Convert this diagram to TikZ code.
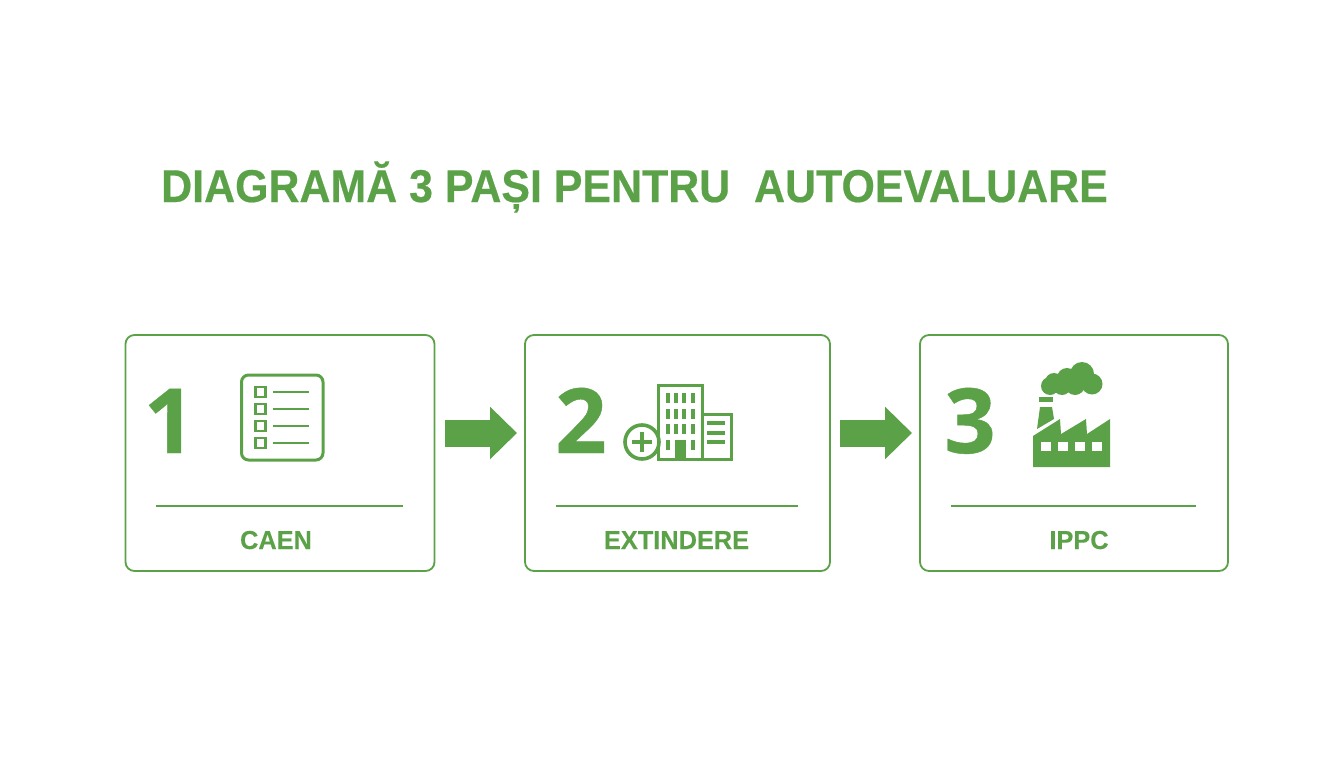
\documentclass[tikz,border=0pt]{standalone}
\usepackage{fontspec}
\setmainfont{Liberation Sans}
\newfontfamily\headfont[FakeStretch=0.933, FakeBold=0.4]{Liberation Sans Bold}
\newfontfamily\labelfont[FakeStretch=0.975, FakeBold=0.2]{Liberation Sans Bold}
\newfontfamily\numfont[FakeBold=0.5]{Open Sans Bold}
\usetikzlibrary{positioning, arrows.meta}
\definecolor{leaf}{HTML}{5AA147}
\tikzset{
  x=1pt, y=-1pt,
  node distance=90pt,
  stepbox/.style={draw=leaf, line width=1.8pt, rounded corners=9pt, minimum height=236pt, outer sep=0pt, inner sep=0pt},
  stepnum/.style={text=leaf, font=\numfont\fontsize{90}{90}\selectfont, anchor=base, inner sep=0pt},
  steplabel/.style={text=leaf, font=\labelfont\fontsize{26}{26}\selectfont, anchor=base, inner sep=0pt},
  headline/.style={text=leaf, font=\headfont\fontsize{46}{46}\selectfont, anchor=base west, inner sep=0pt},
  rule/.style={draw=leaf, line width=1.6pt},
  flow/.style={draw=leaf, line width=27pt, -{Triangle[length=27pt, width=51pt]}, shorten <=10pt, shorten >=8pt},
  thin icon/.style={draw=leaf, line width=2.6pt},
}

\begin{document}
\begin{tikzpicture}
  \useasboundingbox (0,0) rectangle (1344,768);

  \node[headline] (title) at (161,202) {DIAGRAMĂ 3 PAȘI PENTRU\ \ AUTOEVALUARE};

  \node[stepbox, minimum width=309pt, anchor=north west] (box1) at (125.5,335) {};
  \node[stepbox, minimum width=305pt, right=90.5pt of box1] (box2) {};
  \node[stepbox, minimum width=308pt, right=90pt of box2] (box3) {};

  \coordinate (row) at (0,433);
  \draw[flow] (box1.east |- row) -- (box2.west |- row);
  \draw[flow] (box2.east |- row) -- (box3.west |- row);

  \node[stepnum] (num1) at (169.5,453) {1};
  \node[stepnum] (num2) at (581,453) {2};
  \node[stepnum] (num3) at (970,453) {3};

  \draw[rule] (156,506) -- (403,506);
  \draw[rule] (556,506) -- (798,506);
  \draw[rule] (951,506) -- (1196,506);

  \node[steplabel] (caen) at (276,549) {CAEN};
  \node[steplabel] (ext) at (676.5,549) {EXTINDERE};
  \node[steplabel] (ippc) at (1079,549) {IPPC};

  % list icon
  \draw[leaf, line width=3pt, rounded corners=7pt] (241.5,375) rectangle (323,460);
  \foreach \y in {392,409,426,443} {
    \draw[thin icon] (255.5,\y-5) rectangle (265.5,\y+5);
    \draw[thin icon] (273,\y) -- (309,\y);
  }

  % building icon
  \draw[leaf, line width=3pt] (658.5,385.5) rectangle (702,459);
  \draw[leaf, line width=3pt] (702,414.5) rectangle (731,459);
  \foreach \x in {668,676,684,693} {
    \foreach \y in {398,414,429}
      \fill[leaf] (\x-2.3,\y-5) rectangle (\x+2.3,\y+5);
  }
  \foreach \x in {668,693}
    \fill[leaf] (\x-2.3,440) rectangle (\x+2.3,450);
  \fill[leaf] (675,440) rectangle (686,459);
  \foreach \y in {423,433,442}
    \fill[leaf] (707,\y-2.2) rectangle (725,\y+2.2);
  \draw[leaf, line width=3.6pt, fill=white] (642,442) circle (17);
  \fill[leaf] (632,440) rectangle (652,444);
  \fill[leaf] (640,432) rectangle (644,452);

  % factory icon
  \fill[leaf] (1033,467) -- (1033,436) -- (1060,419) -- (1061,434) -- (1086,419)
    -- (1087,434) -- (1110,419) -- (1110,467) -- cycle;
  \foreach \x in {1041,1058,1075,1092}
    \fill[white] (\x,442) rectangle (\x+10,451);
  \fill[leaf] (1037,429) -- (1040,407) -- (1052,407) -- (1054,419) -- cycle;
  \fill[leaf] (1039,397) rectangle (1053,402);
  \fill[leaf] (1050,386) circle (9) (1054,382) circle (9) (1067,378) circle (10)
    (1082,374) circle (12) (1092,384) circle (10.5) (1075,385) circle (10) (1062,386) circle (9);
\end{tikzpicture}
\end{document}
